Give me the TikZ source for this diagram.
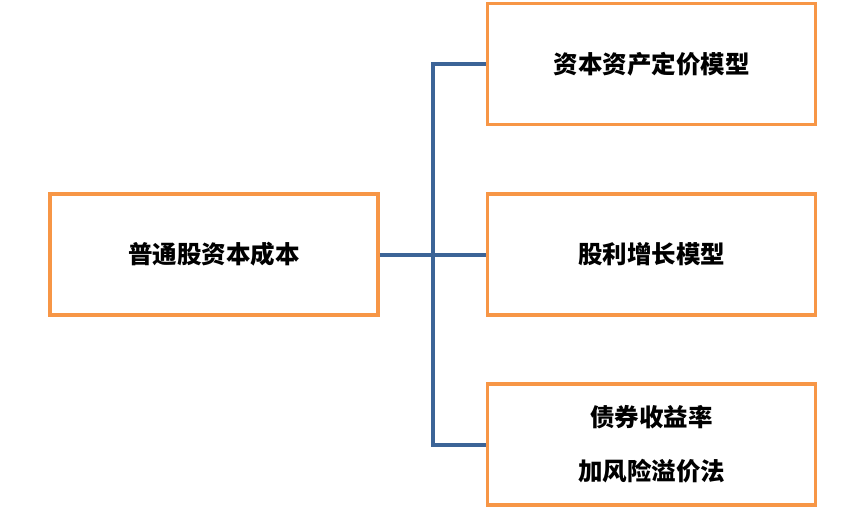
\documentclass[tikz,border=0pt]{standalone}
\usepackage{fontspec}
\newfontfamily\cjk{Noto Sans CJK SC}
\usetikzlibrary{calc}
\definecolor{boxorange}{HTML}{F79646}
\definecolor{linkblue}{HTML}{3C6497}
\tikzset{
	modelbox/.style={draw=boxorange, line width=3.6pt, fill=white, minimum width=328pt, minimum height=121pt, inner sep=0pt, align=center, font=\cjk\bfseries\fontsize{24.5}{54}\selectfont},
	link/.style={draw=linkblue, line width=4pt}
}
\begin{document}
\begin{tikzpicture}[x=1pt, y=-1pt]
		%%%%% START %%%%%
		
		\useasboundingbox (0, 0) rectangle (865, 514);
		
		\node[modelbox] (cost) at (214, 254.5) {普通股资本成本};
		
		\node[modelbox] (capm) at (651.5, 64) {资本资产定价模型};
		\node[modelbox] (ggm) at (651.5, 254.5) {股利增长模型};
		\node[modelbox] (bond) at (651.5, 444.5) {债券收益率\\加风险溢价法};
		
		\coordinate (top) at (432.5, 64);
		\coordinate (bot) at (432.5, 444.5);
		
		\draw[link] (capm.west) -- (top) -- (bot) -- (bond.west);
		\draw[link] (cost.east) -- (ggm.west);
		
		%%%%% END %%%%%
	\end{tikzpicture}
\end{document}
